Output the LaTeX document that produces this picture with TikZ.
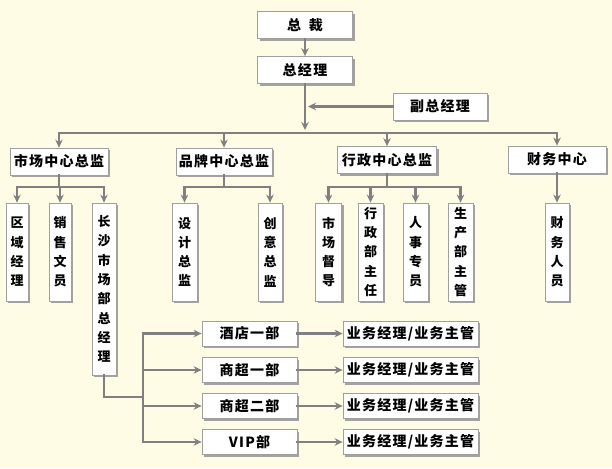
\documentclass[tikz,border=0pt]{standalone}
\usepackage{fontspec}
\setmainfont{Noto Sans CJK SC}
\usetikzlibrary{arrows.meta,shadows}
\definecolor{bg}{HTML}{FFFCE6}
\definecolor{ln}{HTML}{808080}
\definecolor{bd}{HTML}{A0A0A0}
\tikzset{
 box/.style={draw=bd, line width=0.8pt, fill=white, inner sep=0pt,
   drop shadow={shadow xshift=2.2pt, shadow yshift=-2.2pt, fill=black!45, opacity=0.8},
   font=\fontsize{14}{16}\selectfont\bfseries\addfontfeatures{LetterSpace=9}},
 hbox/.style={box, minimum height=27pt},
 vbox/.style={box, align=center, font=\fontsize{13}{19.3}\selectfont\bfseries},
 conn/.style={draw=ln, line width=2.5pt, line cap=rect},
 arr/.style={conn, -{Stealth[length=8pt,width=7.5pt]}},
}
\begin{document}
\begin{tikzpicture}[x=1pt,y=-1pt]
\fill[bg] (0,0) rectangle (612,468);
\useasboundingbox (0,0) rectangle (612,468);
% top
\node[hbox, minimum width=95pt] (zc) at (305,25) {总\hspace{8pt}裁};
\node[hbox, minimum width=95pt] (zjl) at (305,70) {总经理};
\node[hbox, minimum width=94pt] (fz) at (440,106.5) {副总经理};
\node[hbox, minimum width=98pt] (sc) at (59,161.5) {市场中心总监};
\node[hbox, minimum width=96pt] (pp) at (224,161.5) {品牌中心总监};
\node[hbox, minimum width=99pt] (xz) at (387,160) {行政中心总监};
\node[hbox, minimum width=98pt] (cw) at (557,159.5) {财务中心};
% vertical boxes
\node[vbox, minimum width=22pt, minimum height=98pt] (qy) at (17,252) {区\\域\\经\\理};
\node[vbox, minimum width=22pt, minimum height=98pt] (xs) at (60,252) {销\\售\\文\\员};
\node[vbox, minimum width=24pt, minimum height=172pt] (cs) at (104,289) {长\\沙\\市\\场\\部\\总\\经\\理};
\node[vbox, minimum width=25pt, minimum height=98pt] (sj) at (184.5,252) {设\\计\\总\\监};
\node[vbox, minimum width=24pt, minimum height=98pt] (cy) at (270,252) {创\\意\\总\\监};
\node[vbox, minimum width=26pt, minimum height=98pt] (scdd) at (328.5,252) {市\\场\\督\\导};
\node[vbox, minimum width=25pt, minimum height=98pt] (xzb) at (370.5,252) {行\\政\\部\\主\\任};
\node[vbox, minimum width=25pt, minimum height=98pt] (rs) at (415.5,252) {人\\事\\专\\员};
\node[vbox, minimum width=25pt, minimum height=98pt] (scb) at (460.5,252) {生\\产\\部\\主\\管};
\node[vbox, minimum width=24pt, minimum height=98pt] (cwry) at (557,252) {财\\务\\人\\员};
% bottom
\node[hbox, minimum width=95pt, minimum height=25pt] (b1) at (249.5,333.5) {酒店一部};
\node[hbox, minimum width=95pt, minimum height=25pt] (b2) at (249.5,370) {商超一部};
\node[hbox, minimum width=95pt, minimum height=25pt] (b3) at (249.5,406) {商超二部};
\node[hbox, minimum width=95pt, minimum height=25pt] (b4) at (249.5,442) {VIP部};
\foreach \i/\yy in {1/333.5,2/370,3/406,4/442}{
  \node[hbox, minimum width=135pt, minimum height=25pt] (y\i) at (410.5,\yy) {业务经理/业务主管};
}
% connectors
\draw[arr] (zc) -- (zjl);
\coordinate (bus) at (0,133);
\coordinate (busend) at (305,130);
\draw[arr] (zjl.south) -- (busend);
\coordinate (fzend) at (308,106.5);
\draw[arr] (fz.west) -- (fzend);
\draw[conn] (sc.north |- bus) -- (cw.north |- bus);
\foreach \n in {sc,pp,xz,cw} \draw[arr] (\n.north |- bus) -- (\n.north);
\coordinate (sb) at (0,187);
\draw[conn] (sc.south) -- (sc.south |- sb);
\draw[conn] (qy.north |- sb) -- (cs.north |- sb);
\foreach \n in {qy,xs,cs} \draw[arr] (\n.north |- sb) -- (\n.north);
\draw[conn] (pp.south) -- (pp.south |- sb);
\draw[conn] (sj.north |- sb) -- (cy.north |- sb);
\foreach \n in {sj,cy} \draw[arr] (\n.north |- sb) -- (\n.north);
\draw[conn] (xz.south) -- (xz.south |- sb);
\draw[conn] (scdd.north |- sb) -- (scb.north |- sb);
\foreach \n in {scdd,xzb,rs,scb} \draw[arr] (\n.north |- sb) -- (\n.north);
\draw[arr] (cw.south) -- (cwry.north);
\coordinate (br) at (143,397);
\coordinate (vt) at (143,333.5);
\coordinate (vb) at (143,442);
\draw[conn] (cs.south) |- (br);
\draw[conn] (vt) -- (vb);
\foreach \i in {1,2,3,4}{
  \draw[arr] (b\i.west -| vt) -- (b\i.west);
  \draw[arr] (b\i.east) -- (y\i.west);
}
\end{tikzpicture}
\end{document}
